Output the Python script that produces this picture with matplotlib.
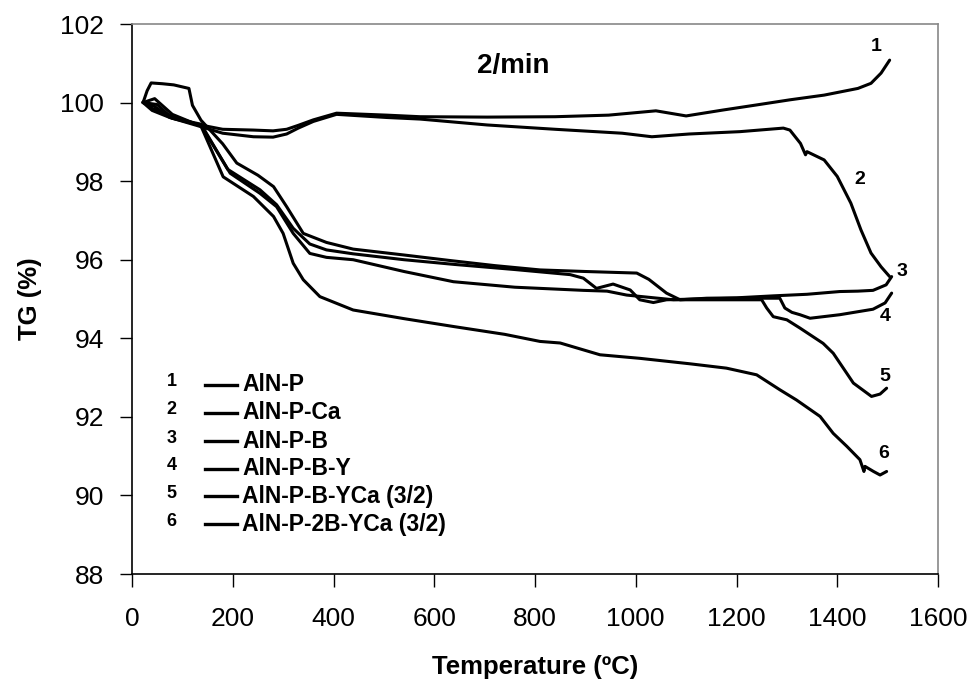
import matplotlib
matplotlib.use("Agg")
import matplotlib.pyplot as plt

plt.rcParams['font.family'] = ['Liberation Sans', 'DejaVu Sans']

# TG curves (temperature in C, TG in %)
t_1 = [22, 40, 75, 128, 180, 241, 280, 307, 330, 360, 406, 506, 572, 705, 840, 946,
       1040, 1100, 1173, 1240, 1306, 1374, 1441, 1467, 1487, 1504]
tg_1 = [100.02, 99.85, 99.68, 99.45, 99.32, 99.30, 99.28, 99.32, 99.42, 99.56, 99.73,
        99.68, 99.64, 99.63, 99.64, 99.68, 99.79, 99.66, 99.81, 99.94, 100.07, 100.19,
        100.36, 100.49, 100.75, 101.08]

t_2 = [22, 40, 75, 128, 180, 241, 280, 307, 330, 360, 406, 506, 572, 705, 840, 973,
       1032, 1106, 1207, 1293, 1306, 1327, 1337, 1340, 1374, 1400, 1427, 1447, 1467,
       1487, 1504]
tg_2 = [100.0, 99.8, 99.62, 99.42, 99.22, 99.13, 99.12, 99.2, 99.35, 99.52, 99.70,
        99.62, 99.58, 99.43, 99.32, 99.22, 99.13, 99.2, 99.26, 99.35, 99.30, 98.96,
        98.67, 98.75, 98.54, 98.12, 97.44, 96.76, 96.17, 95.82, 95.57]

t_3 = [22, 30, 38, 60, 83, 113, 120, 137, 180, 208, 250, 281, 307, 340, 386, 439,
       540, 631, 720, 810, 900, 1002, 1026, 1061, 1088, 1141, 1200, 1273, 1340, 1405,
       1441, 1471, 1497, 1508]
tg_3 = [100.0, 100.3, 100.5, 100.48, 100.45, 100.36, 99.93, 99.55, 98.95, 98.46,
        98.15, 97.86, 97.35, 96.67, 96.44, 96.27, 96.12, 95.98, 95.85, 95.74, 95.7,
        95.66, 95.5, 95.15, 94.98, 95.02, 95.03, 95.08, 95.12, 95.19, 95.2, 95.22,
        95.36, 95.57]

t_4 = [22, 45, 75, 137, 190, 254, 287, 320, 353, 386, 439, 540, 640, 760, 870, 896,
       922, 955, 989, 1008, 1035, 1061, 1120, 1200, 1286, 1296, 1310, 1326, 1346,
       1405, 1471, 1495, 1508]
tg_4 = [100.0, 99.9, 99.62, 99.45, 98.3, 97.78, 97.4, 96.8, 96.4, 96.25, 96.15,
        96.0, 95.88, 95.75, 95.62, 95.53, 95.27, 95.38, 95.23, 94.98, 94.91, 94.98,
        95.0, 95.02, 95.02, 94.77, 94.66, 94.6, 94.51, 94.6, 94.74, 94.9, 95.15]

t_5 = [22, 50, 80, 137, 195, 254, 287, 320, 353, 386, 439, 540, 638, 760, 896, 943,
       982, 1075, 1150, 1250, 1260, 1273, 1300, 1326, 1372, 1392, 1432, 1468, 1485,
       1498]
tg_5 = [100.0, 99.95, 99.6, 99.42, 98.2, 97.69, 97.35, 96.67, 96.16, 96.06, 96.0,
        95.7, 95.44, 95.3, 95.22, 95.2, 95.1, 94.98, 94.98, 94.98, 94.77, 94.55,
        94.47, 94.26, 93.87, 93.62, 92.86, 92.52, 92.58, 92.73]

t_6 = [22, 45, 80, 137, 181, 241, 281, 300, 320, 340, 373, 439, 540, 638, 740, 810,
       850, 929, 1008, 1108, 1180, 1240, 1286, 1319, 1366, 1392, 1419, 1445, 1453,
       1455, 1472, 1485, 1498]
tg_6 = [100.0, 100.1, 99.7, 99.4, 98.11, 97.61, 97.1, 96.67, 95.91, 95.49, 95.06,
        94.72, 94.5, 94.3, 94.1, 93.92, 93.88, 93.58, 93.49, 93.35, 93.24, 93.07,
        92.69, 92.43, 92.01, 91.58, 91.25, 90.91, 90.61, 90.74, 90.61, 90.52, 90.61]

curve_ids = ['1', '2', '3', '4', '5', '6']
sample_names = ['AlN-P', 'AlN-P-Ca', 'AlN-P-B', 'AlN-P-B-Y',
                'AlN-P-B-YCa (3/2)', 'AlN-P-2B-YCa (3/2)']
# where the curve numbers sit at the right-hand ends
end_label_t = [1477, 1444, 1528, 1495, 1495, 1492]
end_label_tg = [101.42, 98.03, 95.7, 94.55, 93.03, 91.08]
# rows of the hand-drawn legend
legend_tg = [92.82, 92.10, 91.38, 90.68, 89.98, 89.26]

fig = plt.figure(figsize=(9.74, 6.85), dpi=100)
ax = fig.add_axes([132 / 974, 1 - 574 / 685, 806 / 974, 550 / 685])

curves = [(t_1, tg_1), (t_2, tg_2), (t_3, tg_3), (t_4, tg_4), (t_5, tg_5), (t_6, tg_6)]
for t, tg in curves:
    ax.plot(t, tg, color='black', lw=2.2, solid_joinstyle='round', solid_capstyle='round')

for cid, x, y in zip(curve_ids, end_label_t, end_label_tg):
    ax.text(x, y, cid, fontsize=14, fontweight='bold', ha='center', va='center')

ax.text(756, 100.94, '2/min', fontsize=20, fontweight='bold', ha='center', va='center')

for cid, name, y in zip(curve_ids, sample_names, legend_tg):
    ax.text(79, y + 0.08, cid, fontsize=13, fontweight='bold', ha='center', va='center')
    ax.plot([145, 208], [y, y], color='black', lw=2.4)
    ax.text(219, y, name, fontsize=16.5, fontweight='bold', ha='left', va='center')

ax.set_xlim(0, 1600)
ax.set_ylim(88, 102)
ax.set_xticks(range(0, 1601, 200))
ax.set_yticks(range(88, 103, 2))
ax.tick_params(axis='x', direction='out', length=9, width=1, pad=15, labelsize=19)
ax.tick_params(axis='y', direction='out', length=9, width=1, pad=11, labelsize=19)

for side in ['top', 'right']:
    ax.spines[side].set_color('#888888')
    ax.spines[side].set_linewidth(1.2)
for side in ['left', 'bottom']:
    ax.spines[side].set_color('black')
    ax.spines[side].set_linewidth(1.2)

ax.set_xlabel('Temperature (ºC)', fontsize=18.5, fontweight='bold', labelpad=17)
ax.set_ylabel('TG (%)', fontsize=18.5, fontweight='bold', labelpad=13)

fig.savefig('out.png', dpi=100)
